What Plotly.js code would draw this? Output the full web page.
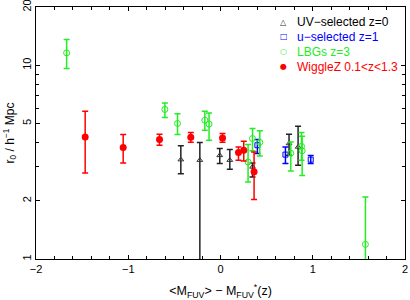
<!DOCTYPE html>
<html>
<head>
<meta charset="utf-8">
<script src="https://cdn.plot.ly/plotly-3.0.1.min.js"></script>
<style>html,body{margin:0;padding:0;background:#fff}#chart{width:410px;height:300px}</style>
</head>
<body>
<div id="chart"></div>
<script>
// UV-selected z=0
const uvX   = [-0.43, -0.224, -0.008, 0.101, 0.347, 0.743, 0.841];
const uvY   = [3.26, 3.24, 3.43, 3.24, 2.99, 3.95, 3.79];
const uvHi  = [3.84, 4.00, 3.72, 3.68, 3.13, 4.41, 4.85];
const uvLo  = [2.76, 0.30, 3.11, 2.91, 2.65, 3.43, 3.05];
// u-selected z=1
const uX    = [0.40, 0.704, 0.978];
const uY    = [3.87, 3.46, 3.26];
const uHi   = [4.14, 3.79, 3.42];
const uLo   = [3.51, 3.11, 3.11];
// LBGs z=3
const lbgX  = [-1.668, -0.603, -0.466, -0.17, -0.124, 0.299, 0.347, 0.426, 0.762, 0.878, 0.885, 1.571];
const lbgY  = [11.6, 5.92, 5.01, 5.21, 4.97, 3.17, 4.19, 4.00, 3.52, 3.82, 3.62, 1.19];
const lbgHi = [13.6, 6.40, 5.62, 5.80, 5.68, 3.90, 4.72, 4.59, 4.02, 4.50, 4.30, 2.09];
const lbgLo = [9.64, 5.38, 4.39, 4.62, 4.11, 2.50, 3.62, 3.40, 2.85, 3.24, 2.70, 0.30];
// WiggleZ 0.1<z<1.3
const wzX   = [-1.467, -1.055, -0.661, -0.322, 0.022, 0.195, 0.252, 0.364];
const wzY   = [4.27, 3.77, 4.14, 4.26, 4.22, 3.55, 3.65, 2.82];
const wzHi  = [5.80, 4.39, 4.41, 4.50, 4.45, 3.79, 4.06, 3.57];
const wzLo  = [2.78, 3.13, 3.87, 4.01, 4.01, 3.24, 3.21, 2.03];

const seriesNames = ['UV\u2212selected z=0', 'u\u2212selected z=1', 'LBGs z=3', 'WiggleZ 0.1&lt;z&lt;1.3'];
const seriesColors = ['#000000', '#0000ff', '#22ee22', '#ff0000'];
const legendGlyphs = ['\u25B3', '\u25A1', '\u25CB', '\u25CF'];

const yTicks = [1, 2, 5, 10, 20];
const yMinor = [3, 4, 6, 7, 8, 9];
const xTicks = [-2, -1, 0, 1, 2];
const xTickText = ['\u22122', '\u22121', '0', '1', '2'];

function mk(name, color, x, y, hi, lo, marker, ecolor) {
  return {
    type: 'scatter', mode: 'markers', name: name, showlegend: false,
    x: x, y: y,
    marker: marker,
    error_y: {
      type: 'data', symmetric: false,
      array: hi.map((v, i) => v - y[i]),
      arrayminus: lo.map((v, i) => y[i] - v),
      color: ecolor || color, thickness: 1.5, width: 3
    }
  };
}

const traces = [
  mk(seriesNames[0], seriesColors[0], uvX, uvY, uvHi, uvLo,
     {symbol: 'triangle-up-open', size: 5, color: '#333', line: {width: 1}}, '#222'),
  mk(seriesNames[1], seriesColors[1], uX, uY, uHi, uLo,
     {symbol: 'square-open', size: 5, color: seriesColors[1], line: {width: 1}}),
  mk(seriesNames[2], seriesColors[2], lbgX, lbgY, lbgHi, lbgLo,
     {symbol: 'circle-open', size: 6, color: seriesColors[2], line: {width: 1}}),
  mk(seriesNames[3], seriesColors[3], wzX, wzY, wzHi, wzLo,
     {symbol: 'circle', size: 7, color: seriesColors[3]})
];

const fam = 'Liberation Sans, Arial, sans-serif';
const font = {family: fam, size: 11, color: '#000'};

// legend drawn as annotations (row positions in paper fraction)
const legendRowY = [0.940, 0.882, 0.823, 0.763];
const annotations = [];
for (let i = 0; i < 4; i++) {
  annotations.push({
    xref: 'paper', yref: 'paper', x: 0.672, y: legendRowY[i], xanchor: 'center', yanchor: 'middle',
    text: legendGlyphs[i], showarrow: false,
    font: {family: 'DejaVu Sans', size: 8, color: i === 0 ? '#333' : seriesColors[i]}
  });
  annotations.push({
    xref: 'paper', yref: 'paper', x: 0.703, y: legendRowY[i], xanchor: 'left', yanchor: 'middle',
    text: seriesNames[i], showarrow: false,
    font: {family: fam, size: 12, color: seriesColors[i]}
  });
}

const layout = {
  width: 410, height: 300,
  margin: {l: 36, r: 5, t: 7, b: 41},
  paper_bgcolor: '#fff', plot_bgcolor: '#fff',
  font: font,
  showlegend: false,
  annotations: annotations,
  xaxis: {
    range: [-2, 2], showgrid: false, zeroline: false,
    showline: true, linecolor: '#000', linewidth: 1, mirror: 'ticks',
    ticks: 'inside', ticklen: 4, tickcolor: '#000',
    tickmode: 'array', tickvals: xTicks, ticktext: xTickText,
    minor: {ticks: 'inside', ticklen: 3, dtick: 0.2, tick0: 0, tickcolor: '#000', showgrid: false},
    title: {text: '&lt;M<sub>FUV</sub>&gt; \u2212 M<sub>FUV</sub><sup>*</sup>(z)', font: {size: 12.5}, standoff: 12}
  },
  yaxis: {
    type: 'log', range: [0, 1.3015], showgrid: false, zeroline: false,
    showline: true, linecolor: '#000', linewidth: 1, mirror: 'ticks',
    ticks: 'inside', ticklen: 4, tickcolor: '#000',
    tickmode: 'array', tickvals: yTicks, ticktext: yTicks.map(String), tickangle: -90,
    ticklabeloverflow: 'allow',
    minor: {ticks: 'inside', ticklen: 3, tickmode: 'array', tickvals: yMinor, tickcolor: '#000', showgrid: false},
    title: {text: 'r<sub>0</sub> / h<sup>\u22121</sup> Mpc', font: {size: 12}, standoff: 3}
  }
};

Plotly.newPlot('chart', traces, layout, {displayModeBar: false, staticPlot: true});
</script>
</body>
</html>
